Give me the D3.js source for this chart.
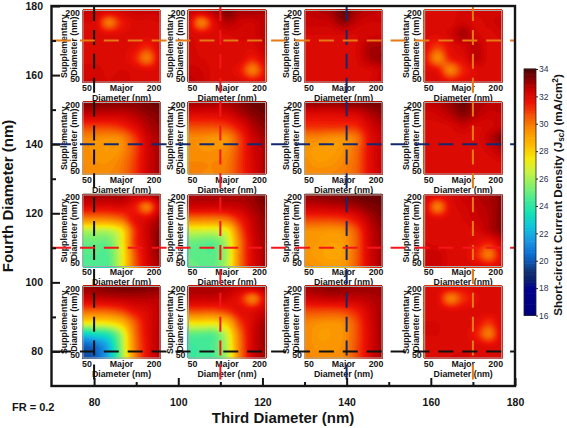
<!DOCTYPE html>
<html><head><meta charset="utf-8">
<script src="https://d3js.org/d3.v7.min.js"></script>
<style>html,body{margin:0;padding:0;background:#fff}svg{display:block}text{font-family:"Liberation Sans",Arial,sans-serif}</style>
</head><body><div id="c"></div>
<script>
const thirdTicks=[80,100,120,140,160,180], fourthTicks=[80,100,120,140,160,180];
const minorTicks=[90,110,130,150,170];
const lineThird=[80,110,140,170], lineFourth=[80,110,140,170];
const lineColors=["#111111","#f5161c","#13296f","#e67a14"];
const colorStops=[16,18,18.6,19.2,19.8,20.5,21.5,22.5,23.5,24.5,25.5,26.5,27.5,28.5,29.5,30.5,31.5,32.5,33.2,34];
const colorValues=["#00007a","#000090","#0a1f72","#10306f","#0f50a8","#0c6fd2","#1a98e2","#10c4dc","#14e2b4","#48ea94","#88f068","#c8f244","#f8e808","#fdb800","#fa9200","#f45a04","#ee1404","#c80000","#8e0000","#4c0404"];
const barTicks=[16,18,20,22,24,26,28,30,32,34];
const supTicks=[50,200], majTicks=[50,200];

const p170_80=[[32.5,32.4,32.2,32.3,32.5,32.5,32.5],[32.2,32,30.1,31.5,32.1,32.1,32.2],[32.1,32.1,31.9,32,32.1,32.1,32.1],[32.1,32.1,32.1,32.1,31.9,31.4,32.1],[32.1,32.1,32.1,32.1,31.5,30.1,32],[32.3,32.3,32.1,32.2,32.1,31.9,32.1],[32.4,32.4,32.2,32.4,32.1,32.1,32.1]];
const p170_110=[[32.6,32.5,33,33.5,33,33,32.8],[32.1,30,31.9,32.8,32.5,32.4,32.8],[32.2,31.9,32.1,32.2,32.3,32.3,32.8],[32.3,32.1,32.1,32.1,32.1,32.1,32.6],[32.3,32.2,32.1,32.1,32.1,31.5,32.3],[32.5,32.4,32.1,32.1,31.6,30,31.7],[32.7,32.5,32.1,32.1,32.1,31.8,32.1]];
const p170_140=[[32.6,32.8,33,33.7,33,32.7,32.6],[32.5,32.5,32.6,33.2,32.6,32.4,32.4],[32.2,32.2,32.2,32.2,32.2,32.3,32.4],[32.1,32.1,32.1,32.1,32.2,32.9,33],[32.1,32.1,32.1,32.1,32.2,32.9,33.2],[32.1,32.1,32.1,32.1,32.1,32.2,32.5],[32.1,32.1,32.1,32.1,32.1,32.2,32.5]];
const p170_170=[[32.2,32.1,32.1,32.3,32.3,32.3,32.3],[32.1,32.1,32.1,32.4,32.1,32.3,32.5],[32.1,32,32.3,33,32.3,32.1,32.3],[31.9,31.1,31.9,32.3,32.7,32.1,32.1],[31.6,29.8,31.5,32,32.7,32.1,32.1],[32,31.6,29.9,31.4,32,32.1,32.1],[32.1,32.1,31.7,31.9,32.1,32.1,32.2]];
const p140_80=[[33.4,33.4,33.4,33.4,33.4,33.6,33.7],[32.5,32.5,32.5,32.5,32.8,33.2,33.4],[31,31,31,31.3,32,32.8,33.2],[29.8,29.7,29.6,29.8,31,32.4,33],[29.7,29.5,29.4,29.7,30.8,32.3,33],[29.8,29.6,29.6,30,31,32.3,33],[29.8,29.8,29.8,30.1,31.1,32.4,33]];
const p140_110=[[33,33,33,33,33.3,33.7,33.8],[32,32,32,32.2,32.8,33.3,33.6],[30.8,30.8,30.8,31,31.8,32.8,33.3],[29.7,29.7,29.5,29.6,31,32.4,33],[29.7,29.6,29.6,29.8,31,32.3,32.9],[29.8,29.8,29.8,30,31.1,32.2,32.9],[29.8,29.8,29.8,30.1,31.1,32.2,32.9]];
const p140_140=[[33.2,33.2,33.2,33.3,33.4,33.5,33.6],[32,32,32,32.1,32.2,32.8,33.2],[31.2,31.2,31.2,31.2,31.3,32.2,32.8],[29.8,29.8,29.6,29.6,30.1,31.8,32.6],[29.5,29.3,29.3,29.6,30.3,31.8,32.6],[29.7,29.4,29.5,29.8,30.4,31.8,32.6],[29.8,29.8,29.8,30,30.5,31.8,32.6]];
const p140_170=[[32.6,32.8,33.2,33.7,33,32.8,32.8],[32.3,32.4,32.8,33.3,32.8,32.5,32.6],[32.1,32.1,32.2,32.5,32.2,32.3,32.6],[32.1,32.1,32.1,32.1,32.1,32.6,33.4],[32.1,32.1,32.1,32.1,32.1,32.3,32.8],[32.1,32.1,32.1,32.1,32.1,32.1,32.2],[32.2,32.1,32.1,32.1,32.1,32.1,32.2]];
const p110_80=[[33,33,33,33,32.6,32.7,33.2],[32,32,32,32.1,31.6,30.1,32.4],[29.8,29.8,29.9,30.4,31.8,32.1,33],[26.3,26.3,26.4,27.6,31,32.5,33.3],[25.1,25.1,25.2,27.2,31,32.4,33.4],[24.8,24.8,24.9,27,30.5,32.3,33.2],[24.7,24.7,24.8,27,30.4,32.2,33]];
const p110_110=[[33,33,33,33,33,33.2,33.6],[32.3,32.3,32.3,32.4,32.6,33,33.4],[30,30,30,30.3,31.5,32.6,33.2],[26.8,26.8,26.8,27.4,30.5,32.4,33.1],[25.2,25,25,26.4,30,32.2,33],[25,24.9,24.9,26.2,30,32.1,32.9],[25.1,25,25,26.4,30,32.1,32.9]];
const p110_140=[[33.2,33.3,33.4,33.5,33.7,33.8,33.7],[32.5,32.5,32.6,32.7,33,33.4,33.6],[31,31,31,31.2,31.8,32.8,33.4],[29.6,29.6,29.5,29.7,30.7,32.4,33.2],[29.5,29.4,29.2,29.4,30.5,32.3,33.1],[29.5,29.3,29.1,29.3,30.5,32.2,33],[29.7,29.5,29.4,29.5,30.6,32.2,33]];
const p110_170=[[32.3,32,32.2,32.5,32.8,33,33.3],[32,30,31.9,32.3,32.6,32.9,33.3],[32.1,31.9,32.1,32.2,32.5,32.8,33.4],[32.2,32.1,32.1,32.1,32.2,32.7,33.3],[32.2,32.1,32.1,32.1,31.9,31.5,32.4],[32.5,32.5,32.1,32.1,31.4,30.1,31.9],[32.6,32.5,32.1,32.1,32.1,31.8,32.1]];
const p80_80=[[33.2,33.3,33.5,33.6,33.6,33.5,33.3],[32.4,32.5,32.6,32.7,32.8,32.8,32.8],[30.5,30.5,30.6,31,31.8,32.2,32.7],[27.6,27.6,27.8,28.6,30.5,32,32.7],[22.9,23.4,24,26.3,30,31.9,32.8],[20.2,20.7,22.3,25.8,29.8,31.8,32.8],[19.8,20.3,22.2,25.6,29.7,31.8,32.8]];
const p80_110=[[33,33,33,32.8,32.6,32.7,33],[32.5,32.5,32.5,32.3,31.6,30,32],[30.8,30.8,30.8,31.2,31.9,31.9,32.5],[27.8,27.8,27.8,28.6,31,32.2,33],[25,24.9,25,26.8,30.2,32.3,33.1],[24.3,24.5,24.8,26.4,30,32.3,33.1],[24.3,24.5,24.7,26.2,30,32.3,33]];
const p80_140=[[33,33.2,33.4,33.3,33.2,33.2,33.2],[32.4,32.5,32.6,32.6,32.6,32.8,33],[30.9,30.9,30.9,31,31.5,32.4,33],[29.9,29.7,29.6,29.8,30.8,32.2,33],[29.8,29.4,29.4,29.6,30.7,32.1,33],[29.8,29.5,29.5,29.7,30.8,32.1,33],[29.9,29.7,29.7,29.8,30.8,32.1,33]];
const p80_170=[[32.2,32.1,32,31.9,32.1,32.2,32.2],[32.1,31.9,30,31.2,31.9,32.1,32.1],[32.1,32.1,31.9,32,32.1,32.1,32.1],[32.2,32.2,32.1,32.1,31.9,31.2,32.1],[32.2,32.2,32.1,32.1,31.5,30.1,32],[32.1,32.1,32.1,32.1,32.1,31.9,32.1],[32.2,32.2,32.2,32.3,32.1,32.1,32.1]];
const panelGrid=[[p170_80,p170_110,p170_140,p170_170],[p140_80,p140_110,p140_140,p140_170],[p110_80,p110_110,p110_140,p110_170],[p80_80,p80_110,p80_140,p80_170]];

const W=567,H=428;
const svg=d3.select("#c").append("svg").attr("width",W).attr("height",H);
const x=d3.scaleLinear().domain([70,180]).range([52,515]);
const y=d3.scaleLinear().domain([70,180]).range([386,6]);
const color=d3.scaleLinear().domain(colorStops).range(colorValues);
const levels=d3.range(16,34.01,0.2);
const ink="#141414";

const colLeft=[83,188.5,305,424.7], rowTop=[10.5,102.5,195,286.5], pw=77, ph=71.5;

function crom(a,t){
  const n=a.length-1, i=Math.min(Math.floor(t),n-1), u=t-i;
  const p0=a[Math.max(i-1,0)],p1=a[i],p2=a[i+1],p3=a[Math.min(i+2,n)];
  return 0.5*((2*p1)+(-p0+p2)*u+(2*p0-5*p1+4*p2-p3)*u*u+(-p0+3*p1-3*p2+p3)*u*u*u);
}
function upsample(g,nx,ny){
  const rows=g.map(r=>d3.range(nx).map(i=>crom(r,i/(nx-1)*(r.length-1))));
  const out=[];
  for(let j=0;j<ny;j++){const tt=j/(ny-1)*(g.length-1);
    for(let i=0;i<nx;i++) out.push(crom(rows.map(r=>r[i]),tt));}
  return out;
}
function dashes(len,first){
  const a=first?[first,8.9]:[];
  let s=d3.sum(a);
  while(s<len){a.push(15,8.9);s+=23.9;}
  return a.join(" ");
}

panelGrid.forEach((row,ri)=>row.forEach((grid,ci)=>{
  const L=colLeft[ci],T=rowTop[ri];
  const sx=d3.scaleLinear().domain([50,200]).range([L,L+pw]);
  const sy=d3.scaleLinear().domain([50,200]).range([T+ph,T]);
  const nx=78,ny=72;
  const vals=upsample(grid,nx,ny);
  const contours=d3.contours().size([nx,ny]).thresholds(levels)(vals);
  const gx=d3.scaleLinear().domain([0.5,nx-0.5]).range([L,L+pw]);
  const gy=d3.scaleLinear().domain([0.5,ny-0.5]).range([T,T+ph]);
  const path=d3.geoPath(d3.geoTransform({point(a,b){this.stream.point(gx(a),gy(b));}}));
  const g=svg.append("g");
  g.append("rect").attr("x",L).attr("y",T).attr("width",pw).attr("height",ph).attr("fill",color(d3.min(vals)));
  g.selectAll("path").data(contours).join("path").attr("d",path).attr("fill",d=>color(d.value)).attr("stroke",d=>color(d.value)).attr("stroke-width",0.3);
  g.append("rect").attr("x",L).attr("y",T).attr("width",pw).attr("height",ph).attr("fill","none").attr("stroke","#a8a8a8").attr("stroke-width",1);
  const t=svg.append("g").attr("font-weight","bold").attr("font-size",8.8).attr("fill",ink);
  majTicks.forEach(v=>t.append("text").attr("x",sx(v)+(v===50?4:-6)).attr("y",T+ph+8.5).attr("text-anchor","middle").text(v));
  t.append("text").attr("x",L+pw/2).attr("y",T+ph+8.5).attr("text-anchor","middle").text("Major");
  t.append("text").attr("x",L+pw/2).attr("y",T+ph+18.8).attr("text-anchor","middle").text("Diameter (nm)");
  supTicks.forEach(v=>t.append("text").attr("x",L-3).attr("y",sy(v)+(v===50?-0.5:5)).attr("text-anchor","end").text(v));
  t.append("text").attr("transform",`translate(${L-16},${T+ph/2}) rotate(-90)`).attr("text-anchor","middle").text("Supplementary");
  t.append("text").attr("transform",`translate(${L-6},${T+ph/2}) rotate(-90)`).attr("text-anchor","middle").text("Diameter (nm)");
}));

// dashed guide lines
lineThird.forEach((v,i)=>svg.append("line").attr("x1",x(v)).attr("x2",x(v)).attr("y1",6).attr("y2",386)
  .attr("stroke",lineColors[i]).attr("stroke-width",2).attr("stroke-dasharray",dashes(400)));
lineFourth.forEach((v,i)=>svg.append("line").attr("x1",51.5).attr("x2",515).attr("y1",y(v)).attr("y2",y(v))
  .attr("stroke",lineColors[i]).attr("stroke-width",2).attr("stroke-dasharray",dashes(480,19.5)));

// main axes
function styleAxis(g){g.select(".domain").remove();g.selectAll("line").attr("stroke",ink).attr("stroke-width",2);
  g.selectAll("text").attr("font-size",10.5).attr("font-weight","bold").attr("fill",ink).attr("font-family",'"Liberation Sans",Arial,sans-serif');}
svg.append("g").attr("transform","translate(0,386)").call(d3.axisBottom(x).tickValues(thirdTicks).tickSize(-8).tickPadding(13).tickFormat(d3.format("d"))).call(styleAxis);
svg.append("g").attr("transform","translate(0,386)").call(d3.axisBottom(x).tickValues(minorTicks).tickSize(-4).tickFormat("")).call(styleAxis);
svg.append("g").attr("transform","translate(52,0)").call(d3.axisLeft(y).tickValues(fourthTicks).tickSize(-8).tickPadding(9).tickFormat(d3.format("d"))).call(styleAxis);
svg.append("g").attr("transform","translate(52,0)").call(d3.axisLeft(y).tickValues(minorTicks).tickSize(-4).tickFormat("")).call(styleAxis);
svg.append("rect").attr("x",x(70)-0.5).attr("y",y(180)).attr("width",x(180)-x(70)+0.5).attr("height",y(70)-y(180)).attr("fill","none").attr("stroke",ink).attr("stroke-width",2.4);

svg.append("text").attr("x",283).attr("y",423).attr("text-anchor","middle").attr("font-weight","bold").attr("font-size",15).attr("fill",ink).text("Third Diameter (nm)");
svg.append("text").attr("transform","translate(13,196) rotate(-90)").attr("text-anchor","middle").attr("font-weight","bold").attr("font-size",15).attr("fill",ink).text("Fourth Diameter (nm)");
svg.append("text").attr("x",12).attr("y",411).attr("font-weight","bold").attr("font-size",11).attr("fill",ink).text("FR = 0.2");

// colour bar
const by=d3.scaleLinear().domain([16,34]).range([315.5,69]);
const bar=svg.append("g");
const step=0.2;
bar.selectAll("rect").data(d3.range(16,34,step)).join("rect").attr("x",524).attr("width",12)
  .attr("y",d=>by(d+step)-0.3).attr("height",by(16)-by(16+step)+0.6).attr("fill",d=>color(d+step/2));
bar.append("rect").attr("x",524).attr("y",by(34)).attr("width",12).attr("height",by(16)-by(34)).attr("fill","none").attr("stroke","#222").attr("stroke-width",0.8);
const barAxis=svg.append("g").attr("transform","translate(536,0)").call(d3.axisRight(by).tickValues(barTicks).tickSize(2).tickPadding(1));
barAxis.select(".domain").remove();
barAxis.selectAll("line").attr("stroke","#222");
barAxis.selectAll("text").attr("font-size",8.5).attr("fill","#2a3350").attr("font-family",'"Liberation Sans",Arial,sans-serif');
const ct=svg.append("text").attr("transform","translate(562,195) rotate(-90)").attr("text-anchor","middle").attr("font-weight","bold").attr("font-size",11.7).attr("fill",ink);
ct.append("tspan").text("Short-circuit Current Density (J");
ct.append("tspan").attr("font-size",8.2).attr("dy",2).text("sc");
ct.append("tspan").attr("dy",-2).text(") (mA/cm");
ct.append("tspan").attr("font-size",8.2).attr("dy",-4).text("2");
ct.append("tspan").attr("dy",4).text(")");
</script></body></html>
